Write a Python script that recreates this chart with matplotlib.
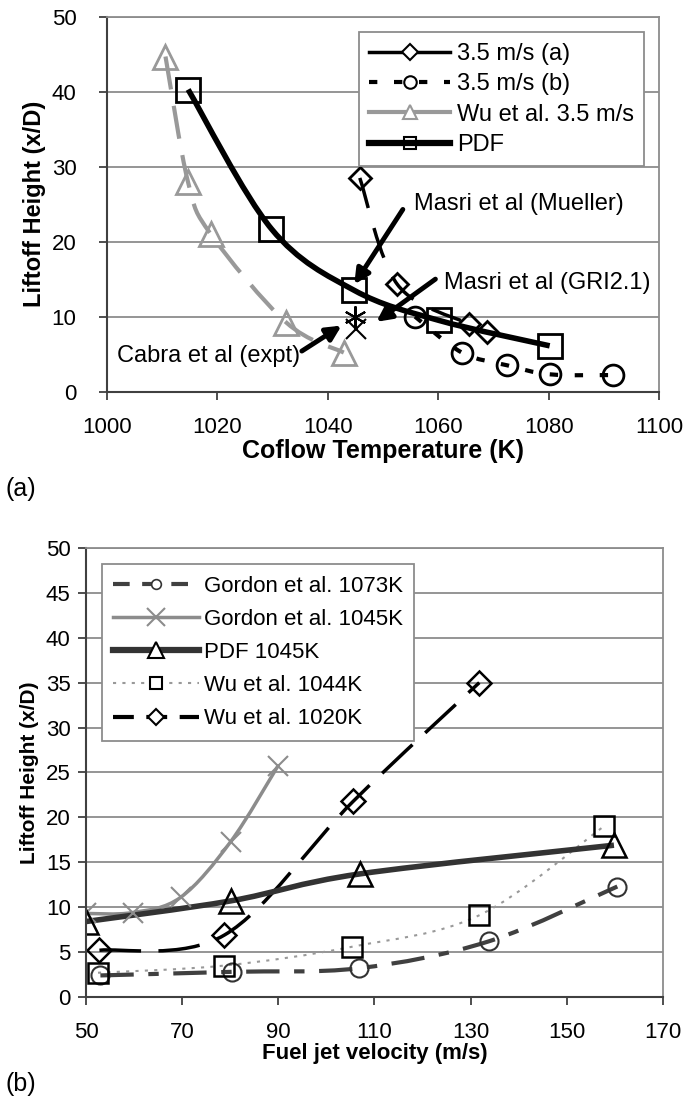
import matplotlib
matplotlib.use("Agg")
import matplotlib.pyplot as plt
import numpy as np
from matplotlib.path import Path
from matplotlib.patches import PathPatch
from matplotlib.lines import Line2D

plt.rcParams['font.family'] = ['Liberation Sans', 'DejaVu Sans']

# ---- (a) liftoff height vs coflow temperature ----
a_T = [1045.8, 1052.6, 1065.6, 1068.9]
a_h = [28.5, 14.3, 9.0, 7.9]
b_T = [1055.8, 1064.3, 1072.5, 1080.2, 1091.7]
b_h = [10.0, 5.2, 3.5, 2.3, 2.2]
wu_T = [1010.6, 1014.7, 1018.8, 1032.5, 1042.9]
wu_h = [44.7, 27.9, 21.0, 9.2, 5.2]
pdf_T = [1014.7, 1029.8, 1044.8, 1060.1, 1080.2]
pdf_h = [40.3, 21.7, 13.5, 9.5, 6.1]
expt_T = [1045.0, 1045.2]
expt_h = [9.9, 8.4]

# ---- (b) liftoff height vs fuel jet velocity ----
g1073_v = [53.0, 80.3, 106.7, 133.8, 160.5]
g1073_h = [2.4, 2.8, 3.2, 6.2, 12.3]
g1045_v = [50.0, 59.7, 69.7, 80.1, 89.9]
g1045_h = [9.3, 9.4, 11.1, 17.3, 25.7]
pdfb_v = [50.0, 80.1, 106.9, 159.8]
pdfb_h = [8.4, 10.7, 13.7, 16.9]
wu1044_v = [52.5, 78.8, 105.4, 131.8, 157.7]
wu1044_h = [2.7, 3.5, 5.6, 9.1, 19.0]
wu1020_v = [52.8, 78.8, 105.6, 131.8]
wu1020_h = [5.2, 6.9, 21.8, 35.0]


def smooth(ax, x, y, **kw):
    # Excel-like smoothed line: Catmull-Rom segments as cubic Bezier
    p = np.column_stack([x, y])
    verts = [p[0]]
    codes = [Path.MOVETO]
    n = len(p)
    for i in range(n - 1):
        p0 = p[i - 1] if i > 0 else p[i]
        p3 = p[i + 2] if i + 2 < n else p[i + 1]
        c1 = p[i] + (p[i + 1] - p0) / 6.0
        c2 = p[i + 1] - (p3 - p[i]) / 6.0
        verts += [c1, c2, p[i + 1]]
        codes += [Path.CURVE4] * 3
    patch = PathPatch(Path(verts, codes), fill=False, capstyle='butt', **kw)
    ax.add_patch(patch)


def style_axes(ax, ypad, xpad):
    ax.grid(axis='y', color='#8c8c8c', lw=1.3)
    ax.set_axisbelow(True)
    for s in ['top', 'right']:
        ax.spines[s].set_color('#8c8c8c')
        ax.spines[s].set_linewidth(1.3)
    for s in ['left', 'bottom']:
        ax.spines[s].set_color('#404040')
        ax.spines[s].set_linewidth(1.5)
    ax.tick_params(direction='out', length=6, width=1.3, color='#404040',
                   labelsize=16)
    ax.tick_params(axis='y', pad=ypad)
    ax.tick_params(axis='x', pad=xpad)


fig = plt.figure(figsize=(6.84, 10.98), dpi=100)

# ================= (a) =================
ax1 = fig.add_axes([0.1564, 0.6434, 0.807, 0.3413])
ax1.set_xlim(1000, 1100)
ax1.set_ylim(0, 50)
ax1.set_xticks(np.arange(1000, 1101, 20))
ax1.set_yticks(np.arange(0, 51, 10))
style_axes(ax1, ypad=16, xpad=12)

smooth(ax1, wu_T, wu_h, edgecolor='#999999', lw=3, linestyle=(0, (8, 4)))
smooth(ax1, pdf_T, pdf_h, edgecolor='black', lw=4)
smooth(ax1, a_T, a_h, edgecolor='black', lw=2.5, linestyle=(0, (9, 6)))
smooth(ax1, b_T, b_h, edgecolor='black', lw=3, linestyle=(0, (2, 4)))

ax1.plot(wu_T, wu_h, ls='none', marker='^', ms=17, mfc='none', mec='#999999', mew=2)
ax1.plot(pdf_T, pdf_h, ls='none', marker='s', ms=17, mfc='none', mec='black', mew=2)
ax1.plot(a_T, a_h, ls='none', marker='D', ms=11, mfc='none', mec='black', mew=2)
ax1.plot(b_T, b_h, ls='none', marker='o', ms=15, mfc='none', mec='black', mew=2)
ax1.plot(expt_T[:1], expt_h[:1], ls='none', marker=(6, 2, 0), ms=16, mec='black', mew=1.5)
ax1.plot(expt_T[1:], expt_h[1:], ls='none', marker='x', ms=15, mec='black', mew=1.5)

arrow = dict(arrowstyle='-|>', lw=3.5, color='black', mutation_scale=22, shrinkA=0, shrinkB=0)
ax1.annotate('', xy=(1044.8, 14.3), xytext=(1053.6, 24.3), arrowprops=arrow)
ax1.text(1055.6, 25.0, 'Masri et al (Mueller)', fontsize=17, va='center')
ax1.annotate('', xy=(1048.8, 9.3), xytext=(1059.5, 15.0), arrowprops=arrow)
ax1.text(1061.0, 14.5, 'Masri et al (GRI2.1)', fontsize=17, va='center')
ax1.annotate('', xy=(1042.5, 8.8), xytext=(1035.3, 5.4), arrowprops=arrow)
ax1.text(1001.8, 4.7, 'Cabra et al (expt)', fontsize=17, va='center')

h1 = [
    Line2D([], [], color='black', lw=2.5, marker='D', ms=8, mfc='white', mec='black', mew=1.5),
    Line2D([], [], color='black', lw=3, ls=(0, (2, 4)), marker='o', ms=9, mfc='white', mec='black', mew=1.5),
    Line2D([], [], color='#999999', lw=3, marker='^', ms=10, mfc='white', mec='#999999', mew=1.5),
    Line2D([], [], color='black', lw=4.5, marker='s', ms=9, mfc='none', mec='black', mew=1.5),
]
leg1 = ax1.legend(h1, ['3.5 m/s (a)', '3.5 m/s (b)', 'Wu et al. 3.5 m/s', 'PDF'],
                  loc='upper right', bbox_to_anchor=(0.995, 0.99), fontsize=17,
                  handlelength=3.4, handletextpad=0.3, labelspacing=0.35,
                  borderpad=0.45, fancybox=False, edgecolor='#8c8c8c', framealpha=1)
leg1.get_frame().set_linewidth(1.3)

ax1.set_xlabel('Coflow Temperature (K)', fontsize=18, fontweight='bold', labelpad=1)
ax1.set_ylabel('Liftoff Height (x/D)', fontsize=17, fontweight='bold', labelpad=4)
fig.text(0.008, 0.548, '(a)', fontsize=18)

# ================= (b) =================
ax2 = fig.add_axes([0.1257, 0.092, 0.8436, 0.409])
ax2.set_xlim(50, 170)
ax2.set_ylim(0, 50)
ax2.set_xticks(np.arange(50, 171, 20))
ax2.set_yticks(np.arange(0, 51, 5))
style_axes(ax2, ypad=5, xpad=12)

smooth(ax2, wu1044_v, wu1044_h, edgecolor='#999999', lw=1.5, linestyle=(0, (1.5, 3)))
smooth(ax2, g1073_v, g1073_h, edgecolor='#404040', lw=3, linestyle=(0, (8, 3.5, 2.5, 3.5)))
smooth(ax2, g1045_v, g1045_h, edgecolor='#8c8c8c', lw=2.5)
smooth(ax2, wu1020_v, wu1020_h, edgecolor='black', lw=2.5, linestyle=(0, (12, 5)))
smooth(ax2, pdfb_v, pdfb_h, edgecolor='#333333', lw=4)

ax2.plot(g1073_v, g1073_h, ls='none', marker='o', ms=13, mfc='none', mec='#333333', mew=1.5)
ax2.plot(g1045_v, g1045_h, ls='none', marker='x', ms=15, mec='#8c8c8c', mew=1.5)
ax2.plot(pdfb_v, pdfb_h, ls='none', marker='^', ms=17, mfc='none', mec='black', mew=1.8)
ax2.plot(wu1044_v, wu1044_h, ls='none', marker='s', ms=14, mfc='none', mec='black', mew=1.8)
ax2.plot(wu1020_v, wu1020_h, ls='none', marker='D', ms=12, mfc='none', mec='black', mew=1.8)

h2 = [
    Line2D([], [], color='#404040', lw=3, ls=(0, (4, 3)), marker='o', ms=7, mfc='white', mec='#333333', mew=1.2),
    Line2D([], [], color='#8c8c8c', lw=2.5, marker='x', ms=13, mec='#8c8c8c', mew=1.5),
    Line2D([], [], color='#333333', lw=4.5, marker='^', ms=11, mfc='white', mec='black', mew=1.5),
    Line2D([], [], color='#999999', lw=1.5, ls=(0, (1.5, 3)), marker='s', ms=9, mfc='white', mec='black', mew=1.5),
    Line2D([], [], color='black', lw=3, ls=(0, (5, 3)), marker='D', ms=8, mfc='white', mec='black', mew=1.5),
]
leg2 = ax2.legend(h2, ['Gordon et al. 1073K', 'Gordon et al. 1045K', 'PDF 1045K',
                       'Wu et al. 1044K', 'Wu et al. 1020K'],
                  loc='upper left', bbox_to_anchor=(0.008, 0.988), fontsize=16,
                  handlelength=3.9, handletextpad=0.2, labelspacing=0.55,
                  borderpad=0.5, fancybox=False, edgecolor='#8c8c8c', framealpha=1)
leg2.get_frame().set_linewidth(1.3)

ax2.set_xlabel('Fuel jet velocity (m/s)', fontsize=16, fontweight='bold', labelpad=0)
ax2.set_ylabel('Liftoff Height (x/D)', fontsize=15, fontweight='bold', labelpad=5)
fig.text(0.008, 0.006, '(b)', fontsize=18)

fig.savefig('out.png', dpi=100)
